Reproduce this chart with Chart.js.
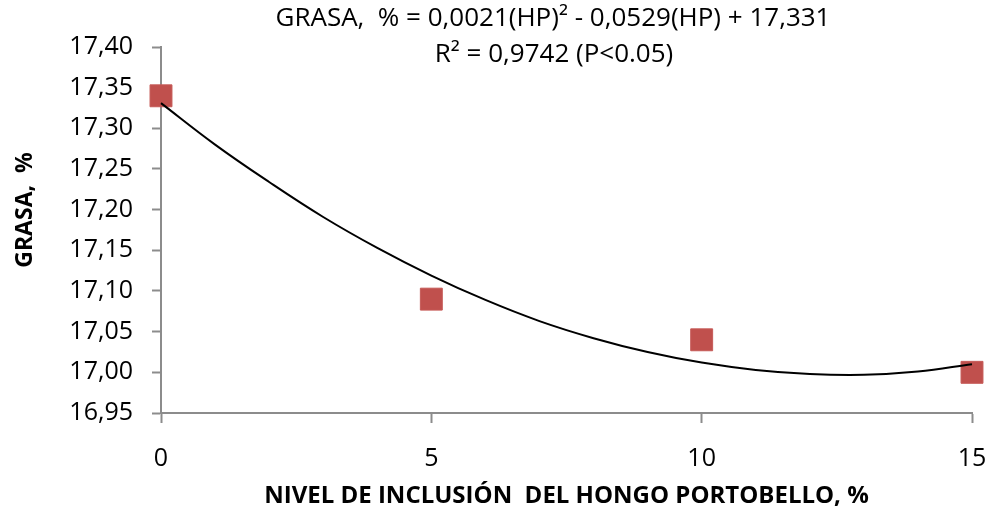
<!DOCTYPE html>
<html><head><meta charset="utf-8">
<script src="https://cdn.jsdelivr.net/npm/chart.js@4"></script>
<style>html,body{margin:0;padding:0;background:#fff}#wrap{width:997px;height:517px}</style>
</head><body><div id="wrap"><canvas id="c" width="997" height="517"></canvas></div>
<script>
// ---- data ----
const levels = [0, 5, 10, 15];
const grasa = [17.34, 17.09, 17.04, 17.00];
const trendX = [0, 1, 2, 3, 4, 5, 6, 7, 8, 9, 10, 11, 12, 13, 14, 15];
const trendY = [17.331, 17.280, 17.234, 17.191, 17.153, 17.119, 17.089, 17.063, 17.042, 17.025, 17.012, 17.003, 16.998, 16.997, 17.001, 17.010];
const yTicks = [16.95, 17.00, 17.05, 17.10, 17.15, 17.20, 17.25, 17.30, 17.35, 17.40];
const xTicks = [0, 5, 10, 15];
const titleLines = ['GRASA,  % = 0,0021(HP)\u00B2 - 0,0529(HP) + 17,331', 'R\u00B2 = 0,9742 (P<0.05)'];
const xTitle = 'NIVEL DE INCLUSI\u00D3N  DEL HONGO PORTOBELLO, %';
const yTitle = 'GRASA,  %';

const FONT = 'Open Sans';
const AXIS = '#8c8c8c';

const textPlugin = {
  id: 'texts',
  afterDraw(chart) {
    const ctx = chart.ctx;
    ctx.save();
    ctx.fillStyle = '#000';
    ctx.font = '26px "' + FONT + '"';
    ctx.textAlign = 'center';
    ctx.textBaseline = 'middle';
    ctx.fillText(titleLines[0], 553, 19);
    ctx.fillText(titleLines[1], 554, 55);
    ctx.font = 'bold 23px "' + FONT + '"';
    ctx.translate(25, 210);
    ctx.rotate(-Math.PI / 2);
    ctx.fillText(yTitle, 0, 0);
    ctx.restore();
  }
};

new Chart(document.getElementById('c'), {
  type: 'scatter',
  data: {
    datasets: [
      {
        type: 'line',
        data: trendX.map((x, i) => ({ x, y: trendY[i] })),
        borderColor: '#000',
        borderWidth: 2,
        pointRadius: 0,
        tension: 0.4,
        fill: false,
        clip: false,
        order: 0
      },
      {
        data: levels.map((x, i) => ({ x, y: grasa[i] })),
        pointStyle: 'rect',
        pointRadius: 15.5,
        backgroundColor: '#C0504D',
        borderColor: '#c65a57',
        borderWidth: 1,
        clip: false,
        order: 1
      }
    ]
  },
  options: {
    responsive: false,
    animation: false,
    devicePixelRatio: 1,
    layout: { padding: { top: 47, right: 25, bottom: 0, left: 0 } },
    plugins: { legend: { display: false }, tooltip: { enabled: false } },
    scales: {
      x: {
        type: 'linear', min: 0, max: 15,
        afterBuildTicks: s => { s.ticks = xTicks.map(v => ({ value: v })); },
        afterFit: s => { s.height = 104; s.paddingLeft = 0; s.paddingRight = 0; },
        grid: { drawOnChartArea: false, drawTicks: true, tickLength: 10, color: AXIS, tickWidth: 2 },
        border: { display: true, color: AXIS, width: 2 },
        ticks: { color: '#000', font: { family: FONT, size: 25 }, padding: 21, maxRotation: 0, callback: v => String(v) },
        title: { display: true, text: xTitle, color: '#000', font: { family: FONT, size: 24, weight: 'bold' }, padding: { top: 0, bottom: 6 } }
      },
      y: {
        type: 'linear', min: 16.95, max: 17.40,
        afterBuildTicks: s => { s.ticks = yTicks.map(v => ({ value: v })); },
        afterFit: s => { s.width = 161; s.paddingTop = 0; s.paddingBottom = 0; },
        grid: { drawOnChartArea: false, drawTicks: true, tickLength: 9, color: AXIS, tickWidth: 2 },
        border: { display: true, color: AXIS, width: 2 },
        ticks: { color: '#000', font: { family: FONT, size: 25 }, padding: 19, callback: v => v.toFixed(2).replace('.', ',') },
        title: { display: false }
      }
    }
  },
  plugins: [textPlugin]
});
</script>
</body></html>
